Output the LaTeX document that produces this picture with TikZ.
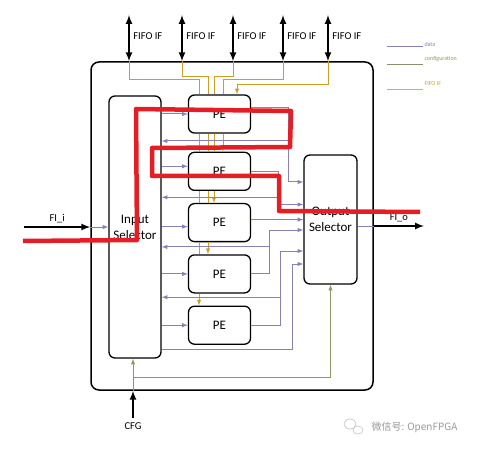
\documentclass[tikz,border=0pt]{standalone}
\usepackage{fontspec}
\setmainfont{Carlito}
\newfontfamily\cjkfont{Noto Sans CJK SC}
\usetikzlibrary{positioning}
\definecolor{datacol}{RGB}{138,128,178}
\definecolor{cfgcol}{RGB}{138,154,98}
\definecolor{fifocol}{RGB}{204,158,38}
\definecolor{markred}{RGB}{228,30,36}
\tikzset{chipbox/.style = {draw, rounded corners=8pt, line width=1.5pt, minimum width=282pt, minimum height=328pt}}
\tikzset{selbox/.style = {draw, rounded corners=6pt, line width=1.3pt, align=center, font=\fontsize{13}{16}\selectfont}}
\tikzset{pe/.style = {draw, rounded corners=6pt, line width=1.3pt, minimum width=62pt, minimum height=38pt, font=\fontsize{13}{16}\selectfont}}
\tikzset{data/.style = {datacol, line width=1pt}}
\tikzset{config/.style = {cfgcol, line width=1pt}}
\tikzset{fifo/.style = {fifocol, line width=1pt}}
\tikzset{iobus/.style = {black, line width=2pt}}
\tikzset{portlabel/.style = {font=\fontsize{10.5}{12}\selectfont}}
\tikzset{legend/.style = {font=\fontsize{6}{7}\selectfont, anchor=west, inner sep=1pt}}

\begin{document}
\begin{tikzpicture}[>=latex, x=1pt, y=-1pt, node distance=12pt]
  \useasboundingbox (0,0) rectangle (479,449);

  \node [chipbox] (chip) at (232,226) {};
  \node [selbox, minimum width=52pt, minimum height=262pt] (insel) at (135,227) {Input\\Selector};
  \node [pe] (pe1) at (219.5,114) {PE};
  \node [pe, below=18pt of pe1] (pe2) {PE};
  \node [pe, below=of pe2] (pe3) {PE};
  \node [pe, below=of pe3] (pe4) {PE};
  \node [pe, below=of pe4] (pe5) {PE};
  \node [selbox, minimum width=53pt, minimum height=129pt] (outsel) at (330.5,219.5) {Output\\Selector};

  % FIFO interfaces
  \coordinate (f1) at (129,15);
  \coordinate (f2) at (182,15);
  \coordinate (f3) at (233,15);
  \coordinate (f4) at (283,15);
  \coordinate (f5) at (328,15);
  \draw[iobus, <->] (f1) -- node [portlabel, right, pos=0.45] {FIFO IF} (f1 |- chip.north);
  \draw[iobus, <->] (f2) -- node [portlabel, right, pos=0.45] {FIFO IF} (f2 |- chip.north);
  \draw[iobus, <->] (f3) -- node [portlabel, right, pos=0.45] {FIFO IF} (f3 |- chip.north);
  \draw[iobus, <->] (f4) -- node [portlabel, right, pos=0.45] {FIFO IF} (f4 |- chip.north);
  \draw[iobus, <->] (f5) -- node [portlabel, right, pos=0.45] {FIFO IF} (f5 |- chip.north);

  \draw[fifo] (f1 |- chip.north) -- ++(0,18) -| ([xshift=-20.5pt]pe1.north);
  \draw[fifo] (f2 |- chip.north) -- ++(0,15) -| ([xshift=-11.5pt]pe1.north);
  \draw[fifo] (f3 |- chip.north) -- ++(0,15) -| ([xshift=-5.5pt]pe1.north);
  \draw[fifo] (f4 |- chip.north) -- ++(0,18) -| ([xshift=3.5pt]pe1.north);
  \draw[fifo, ->] (f5 |- chip.north) -- ++(0,23) -| ([xshift=17.5pt]pe1.north);

  \draw[fifo] ([xshift=-20.5pt]pe1.south) -- ([xshift=-20.5pt]pe2.north);
  \draw[fifo] ([xshift=-11.5pt]pe1.south) -- ([xshift=-11.5pt]pe2.north);
  \draw[fifo] ([xshift=-5.5pt]pe1.south) -- ([xshift=-5.5pt]pe2.north);
  \draw[fifo, ->] ([xshift=3.5pt]pe1.south) -- ([xshift=3.5pt]pe2.north);
  \draw[fifo] ([xshift=-20.5pt]pe2.south) -- ([xshift=-20.5pt]pe3.north);
  \draw[fifo] ([xshift=-11.5pt]pe2.south) -- ([xshift=-11.5pt]pe3.north);
  \draw[fifo, ->] ([xshift=-5.5pt]pe2.south) -- ([xshift=-5.5pt]pe3.north);
  \draw[fifo] ([xshift=-20.5pt]pe3.south) -- ([xshift=-20.5pt]pe4.north);
  \draw[fifo, ->] ([xshift=-11.5pt]pe3.south) -- ([xshift=-11.5pt]pe4.north);
  \draw[fifo, ->] ([xshift=-20.5pt]pe4.south) -- ([xshift=-20.5pt]pe5.north);

  % data in
  \coordinate (fii) at (24,227);
  \draw[iobus, ->] (fii) -- node [portlabel, above] {FI\_i} (fii -| chip.west);
  \draw[data, ->] (fii -| chip.west) -- (fii -| insel.west);
  \draw[data, ->] (insel.east |- pe1.west) -- (pe1.west);
  \draw[data, ->, transform canvas={yshift=5pt}] (insel.east |- pe2.west) -- (pe2.west);
  \draw[data, ->, transform canvas={yshift=-4pt}] (insel.east |- pe3.west) -- (pe3.west);
  \draw[data, ->] (insel.east |- pe4.west) -- (pe4.west);
  \draw[data, ->] (insel.east |- pe5.west) -- (pe5.west);

  % data out and feedback
  \draw[data, ->] ([yshift=6pt]pe1.east) -- ++(37,0) coordinate (b1) |- ([yshift=37.5pt]outsel.west);
  \draw[data, ->, transform canvas={yshift=-33pt}] (b1) -- (b1 -| insel.east);
  \draw[data, ->] (pe2.east) -- ++(27,0) coordinate (b2) |- ([yshift=15pt]outsel.west);
  \draw[data, ->, transform canvas={yshift=-26pt}] (b2) -- (b2 -| insel.east);
  \draw[data, ->, transform canvas={yshift=3pt}] (pe3.east) -- (pe3.east -| outsel.west);
  \draw[data, ->] (pe4.east) -- ++(18,0) coordinate (b4) |- ([yshift=-10.5pt]outsel.west);
  \draw[data, ->, transform canvas={yshift=27pt}] (b4) -- (b4 -| insel.east);
  \draw[data, ->] (pe5.east) -- ++(29,0) coordinate (b5) |- ([yshift=-31.5pt]outsel.west);
  \draw[data, ->, transform canvas={yshift=28pt}] (b5) -- (b5 -| insel.east);
  \draw[data, ->] ([yshift=-122pt]insel.east) -- ++(131,0) coordinate (b6) |- ([yshift=-44.5pt]outsel.west);

  \coordinate (fio) at (424,226);
  \draw[data] (fio -| outsel.east) -- (fio -| chip.east);
  \draw[iobus, ->] (fio -| chip.east) -- node [portlabel, above] {FI\_o} (fio);

  % configuration
  \coordinate (cfg) at (133,418);
  \draw[iobus, ->] (cfg) node [portlabel, below] {CFG} -- (cfg |- chip.south);
  \draw[config, ->] (cfg |- chip.south) -- (cfg |- insel.south);
  \draw[config, ->] ([yshift=13pt]cfg |- chip.south) -| (outsel.south);

  % legend
  \draw[datacol, line width=1pt] (387,47) -- (423,47) node [legend, text=datacol, yshift=3pt] {data};
  \draw[cfgcol!70!gray, line width=1pt] (387,65) -- (423,65) node [legend, text=cfgcol, yshift=6pt] {configuration};
  \draw[fifocol!80!white, line width=1pt] (387,90) -- (423,90) node [legend, text=fifocol, yshift=6pt] {FIFO IF};

  % watermark
  \draw[gray!50, line width=0.6pt] (350,424) ellipse (6 and 5);
  \draw[gray!50, line width=0.6pt] (358,430) ellipse (5 and 4);
  \node [anchor=west, text=gray!80, font=\cjkfont\fontsize{10}{12}\selectfont] (wm) at (368,427) {微信号: OpenFPGA};

  % red trace
  \draw[markred, line width=4.5pt, line join=round] (23,241) -- (137,240) -- (136,109) -- (291,111) -- (290,147) -- (152,148) -- (152,176) -- (279,176) -- (279,211) -- (420,212);
\end{tikzpicture}
\end{document}
